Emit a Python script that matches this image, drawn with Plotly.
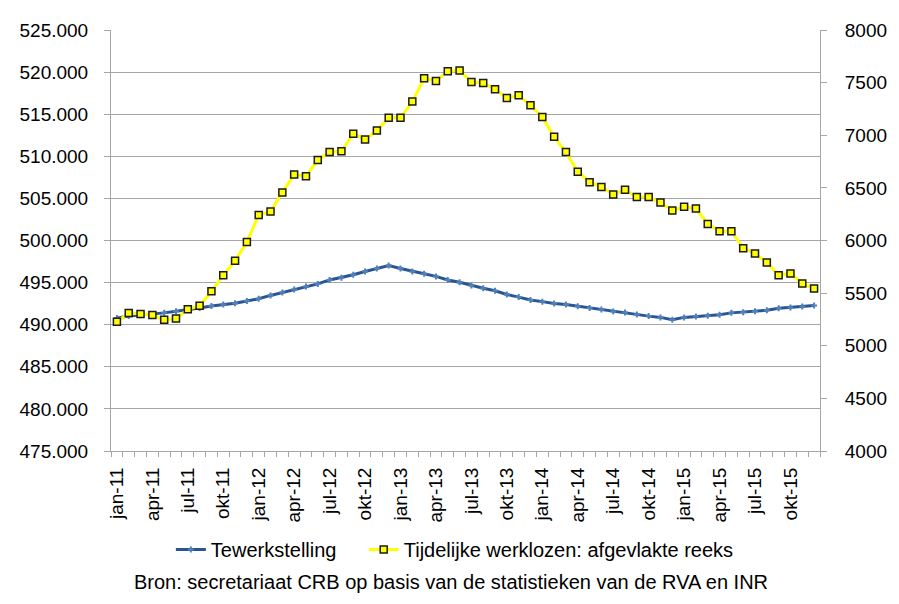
import plotly.graph_objects as go

# Maanden jan-11 .. dec-15
MAANDEN_NL = ["jan", "feb", "mrt", "apr", "mei", "jun", "jul", "aug", "sep", "okt", "nov", "dec"]
months = [f"{m}-{j}" for j in range(11, 16) for m in MAANDEN_NL]
tick_labels = [m if i % 3 == 0 else "" for i, m in enumerate(months)]

# Tewerkstelling (linkeras)
tewerkstelling = [
    490785, 491019, 491136, 491253, 491405, 491604, 491756, 491990, 492225, 492389,
    492541, 492810, 493080, 493478, 493830, 494181, 494532, 494848, 495316, 495585,
    495937, 496323, 496674, 497025, 496675, 496323, 496054, 495738, 495316, 495035,
    494649, 494333, 494028, 493595, 493279, 492928, 492740, 492506, 492389, 492190,
    491991, 491815, 491569, 491452, 491218, 491019, 490867, 490586, 490867, 490984,
    491054, 491171, 491405, 491487, 491604, 491721, 491956, 492037, 492154, 492272,
]

# Tijdelijke werklozen: afgevlakte reeks (rechteras)
werklozen = [
    5227, 5311, 5302, 5293, 5246, 5258, 5346, 5380, 5517, 5670,
    5808, 5986, 6242, 6276, 6457, 6626, 6611, 6766, 6841, 6848,
    7014, 6960, 7044, 7166, 7166, 7320, 7541, 7516, 7609, 7616,
    7506, 7497, 7438, 7354, 7379, 7285, 7173, 6985, 6841, 6654,
    6554, 6508, 6438, 6482, 6414, 6414, 6361, 6286, 6320, 6304,
    6157, 6089, 6089, 5927, 5876, 5792, 5670, 5686, 5592, 5543,
]

FONT = "Liberation Sans, Arial, sans-serif"
GRID = "#a6a6a6"
NBSP = "\u00a0"

fig = go.Figure()

fig.add_trace(go.Scatter(
    x=months, y=tewerkstelling,
    mode="lines+markers",
    name="Tewerkstelling" + NBSP * 4,
    line=dict(color="#2b5592", width=3),
    marker=dict(symbol="cross", size=5, color="#4f81bd"),
))

fig.add_trace(go.Scatter(
    x=months, y=werklozen,
    mode="lines+markers",
    name="Tijdelijke werklozen: afgevlakte reeks",
    yaxis="y2",
    line=dict(color="#ffff00", width=3),
    marker=dict(symbol="square", size=7, color="#ffff00",
                line=dict(color="#1a1a1a", width=1.5)),
))

# pagina heeft 8px body-marge; figuur moet binnen het venster passen
fig.update_layout(
    width=891, height=588,
    margin=dict(l=98, r=67, t=16, b=145),
    paper_bgcolor="white",
    plot_bgcolor="white",
    separators=",.",
    font=dict(family=FONT, size=19, color="#000000"),
    showlegend=True,
    legend=dict(
        orientation="h",
        x=0.485, xanchor="center",
        y=-0.234, yanchor="middle",
        font=dict(size=20),
        itemwidth=30,
    ),
    xaxis=dict(
        type="category",
        categoryorder="array",
        categoryarray=months,
        tickmode="array",
        tickvals=months,
        ticktext=tick_labels,
        tickangle=-90,
        tickson="boundaries",
        ticks="outside",
        ticklen=5,
        tickcolor=GRID,
        showline=True,
        linecolor=GRID,
        linewidth=1,
        showgrid=False,
        range=[-0.5, 59.5],
        ticklabelstandoff=8,
    ),
    yaxis=dict(
        range=[475000, 525000],
        dtick=5000,
        tickformat=",d",
        showgrid=True,
        gridcolor=GRID,
        gridwidth=1,
        zeroline=False,
        showline=True,
        linecolor=GRID,
        ticks="outside",
        ticklen=6,
        tickcolor=GRID,
        ticklabelstandoff=12,
    ),
    yaxis2=dict(
        overlaying="y",
        side="right",
        range=[4000, 8000],
        dtick=500,
        tickformat="d",
        showgrid=False,
        zeroline=False,
        showline=True,
        linecolor=GRID,
        ticks="outside",
        ticklen=6,
        tickcolor=GRID,
        ticklabelstandoff=14,
    ),
)

fig.add_annotation(
    text="Bron: secretariaat CRB op basis van de statistieken van de RVA en INR",
    xref="paper", yref="paper",
    x=0.48, y=-0.311,
    xanchor="center", yanchor="middle",
    showarrow=False,
    font=dict(size=20, family=FONT),
)

fig.write_html("out.html")
